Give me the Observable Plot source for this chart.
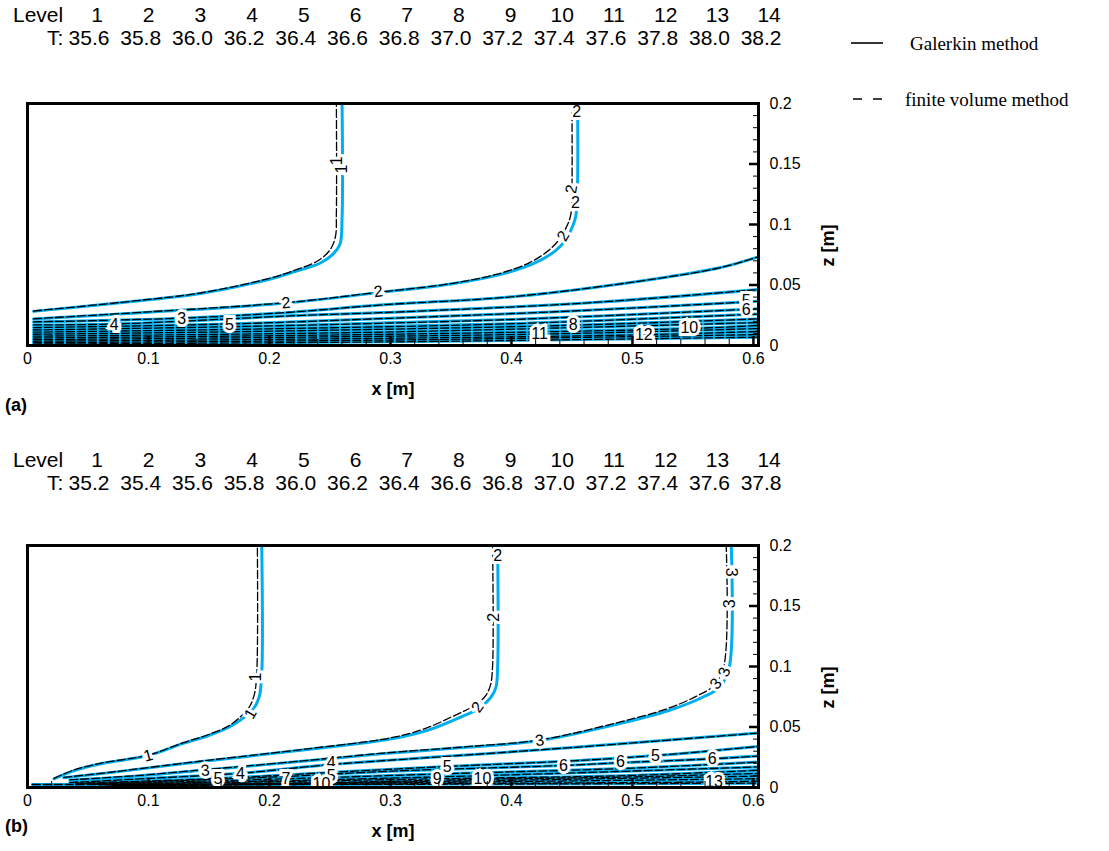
<!DOCTYPE html>
<html><head><meta charset="utf-8">
<script src="https://cdn.jsdelivr.net/npm/d3@7"></script>
<script src="https://cdn.jsdelivr.net/npm/@observablehq/plot@0.6"></script>
<style>
body{margin:0;background:#fff;font-family:"Liberation Sans",Arial,sans-serif;color:#000;}
#root{position:relative;width:1109px;height:851px;overflow:hidden;background:#fff;}
.t{position:absolute;white-space:nowrap;line-height:1;}
.c{transform:translateX(-50%);}
.plotbox{position:absolute;left:0;}
</style></head>
<body><div id="root"></div>
<script>
// ---------- data ----------
const levels = [1,2,3,4,5,6,7,8,9,10,11,12,13,14];
const tempsA = ["35.6","35.8","36.0","36.2","36.4","36.6","36.8","37.0","37.2","37.4","37.6","37.8","38.0","38.2"];
const tempsB = ["35.2","35.4","35.6","35.8","36.0","36.2","36.4","36.6","36.8","37.0","37.2","37.4","37.6","37.8"];
const xMajor = [0,0.1,0.2,0.3,0.4,0.5,0.6];
const xMinor = [0.02,0.04,0.06,0.08,0.12,0.14,0.16,0.18,0.22,0.24,0.26,0.28,0.32,0.34,0.36,0.38,0.42,0.44,0.46,0.48,0.52,0.54,0.56,0.58];
const zMajor = [0,0.05,0.1,0.15,0.2];
const zMinor = [0.01,0.02,0.03,0.04,0.06,0.07,0.08,0.09,0.11,0.12,0.13,0.14,0.16,0.17,0.18,0.19];
const xDomain = [0, 0.6042];
const zDomain = [0, 0.2];

// panel (a): Galerkin contours [level, [[x,z],...]]
const galerkinA = [
 [1,[[0.005,0.0282],[0.0883,0.0365],[0.144,0.0432],[0.2,0.0548],[0.2217,0.0614],[0.2417,0.068],[0.2525,0.0755],[0.2583,0.0838],[0.26,0.1054],[0.26,0.2]]],
 [2,[[0.005,0.0218],[0.1,0.0275],[0.2136,0.0351],[0.29,0.0437],[0.35,0.0508],[0.392,0.059],[0.419,0.068],[0.436,0.078],[0.444,0.086],[0.449,0.095],[0.453,0.106],[0.4545,0.128],[0.4547,0.2]]],
 [3,[[0.005,0.0195],[0.1275,0.0226],[0.21,0.027],[0.294,0.0336],[0.405,0.0407],[0.517,0.0548],[0.572,0.0642],[0.604,0.0733]]],
 [4,[[0.005,0.0170],[0.072,0.0178],[0.2275,0.0249],[0.294,0.0272],[0.461,0.0351],[0.604,0.0462]]],
 [5,[[0.005,0.0148],[0.167,0.0178],[0.3,0.0225],[0.45,0.0285],[0.604,0.0365]]],
 [6,[[0.005,0.0128],[0.2,0.0162],[0.4,0.0215],[0.604,0.0303]]],
 [7,[[0.005,0.0110],[0.2,0.0138],[0.4,0.0180],[0.604,0.0260]]],
 [8,[[0.005,0.0093],[0.2,0.0118],[0.451,0.0168],[0.604,0.0220]]],
 [9,[[0.005,0.0077],[0.3,0.0112],[0.604,0.0190]]],
 [10,[[0.005,0.0062],[0.3,0.0093],[0.547,0.0140],[0.604,0.0166]]],
 [11,[[0.005,0.0048],[0.4233,0.0094],[0.604,0.0140]]],
 [12,[[0.005,0.0035],[0.3,0.006],[0.5094,0.0089],[0.604,0.0116]]],
 [13,[[0.005,0.0023],[0.3,0.0045],[0.604,0.0090]]],
 [14,[[0.005,0.0012],[0.3,0.0030],[0.604,0.0069]]]
];
// panel (a): finite volume contours where they differ visibly
const fvmA = [
 [1,[[0.005,0.0285],[0.0883,0.0368],[0.144,0.0436],[0.2,0.0555],[0.2217,0.0625],[0.24,0.070],[0.25,0.079],[0.2545,0.090],[0.2553,0.11],[0.2553,0.2]]],
 [2,[[0.005,0.0221],[0.1,0.0278],[0.2136,0.0354],[0.29,0.044],[0.35,0.0512],[0.39,0.0595],[0.415,0.0685],[0.43,0.078],[0.439,0.087],[0.445,0.097],[0.449,0.108],[0.45,0.13],[0.45,0.2]]]
];
const labelsA = [
 [1,0.2553,0.1527,-90],[1,0.26,0.1458,-90],
 [2,0.4539,0.1928,0],[2,0.4497,0.1292,-80],[2,0.453,0.118,0],[2,0.4428,0.0905,-60],
 [2,0.2136,0.0351,-5],[2,0.29,0.0445,-7],
 [3,0.1275,0.0224,0],[4,0.0717,0.0174,0],[5,0.167,0.0174,0],
 [5,0.594,0.0365,0],[6,0.594,0.0296,0],[8,0.451,0.0172,0],
 [10,0.547,0.0144,0],[11,0.4233,0.0094,0],[12,0.5094,0.0089,0]
];

// panel (b)
const galerkinB = [
 [1,[[0.0219,0.0072],[0.0386,0.014],[0.0608,0.0196],[0.0998,0.0264],[0.1275,0.0361],[0.1497,0.043],[0.1664,0.0498],[0.1775,0.0568],[0.1858,0.0636],[0.1914,0.0746],[0.1936,0.094],[0.1936,0.2]]],
 [2,[[0.03,0.008],[0.07,0.0125],[0.144,0.0215],[0.2275,0.031],[0.30,0.040],[0.33,0.047],[0.358,0.0581],[0.3747,0.0664],[0.3831,0.0746],[0.3872,0.0829],[0.3886,0.1],[0.3886,0.2]]],
 [3,[[0.035,0.006],[0.09,0.0095],[0.147,0.0145],[0.22,0.021],[0.294,0.028],[0.36,0.033],[0.4233,0.0388],[0.4886,0.0526],[0.53,0.0636],[0.558,0.0746],[0.572,0.0829],[0.58,0.0994],[0.5817,0.2]]],
 [4,[[0.035,0.004],[0.1,0.0075],[0.176,0.0118],[0.251,0.019],[0.35,0.026],[0.45,0.033],[0.604,0.045]]],
 [5,[[0.04,0.0035],[0.1575,0.0075],[0.251,0.0125],[0.347,0.0174],[0.45,0.022],[0.519,0.0264],[0.604,0.034]]],
 [6,[[0.045,0.003],[0.2,0.0085],[0.3,0.0135],[0.443,0.0182],[0.49,0.0205],[0.566,0.0237],[0.604,0.026]]],
 [7,[[0.05,0.0028],[0.2136,0.0072],[0.35,0.0115],[0.5,0.016],[0.604,0.021]]],
 [8,[[0.055,0.0025],[0.25,0.0065],[0.4,0.0105],[0.604,0.017]]],
 [9,[[0.06,0.0023],[0.3386,0.0072],[0.5,0.010],[0.604,0.0143]]],
 [10,[[0.065,0.002],[0.243,0.004],[0.376,0.0068],[0.5,0.0088],[0.604,0.0116]]],
 [11,[[0.07,0.0018],[0.3,0.0045],[0.604,0.0094]]],
 [12,[[0.075,0.0016],[0.3,0.0038],[0.604,0.0072]]],
 [13,[[0.08,0.0014],[0.3,0.003],[0.5675,0.0046],[0.604,0.0053]]],
 [14,[[0.004,0.0025],[0.3,0.0026],[0.604,0.0036]]]
];
const fvmB = [
 [1,[[0.0219,0.0076],[0.0386,0.0146],[0.0608,0.0201],[0.0998,0.0268],[0.1275,0.0366],[0.1497,0.0438],[0.1664,0.051],[0.176,0.0585],[0.183,0.066],[0.1875,0.077],[0.1895,0.095],[0.19,0.2]]],
 [2,[[0.03,0.0083],[0.07,0.0128],[0.144,0.0219],[0.2275,0.0315],[0.30,0.041],[0.328,0.0485],[0.352,0.059],[0.368,0.067],[0.378,0.075],[0.3825,0.084],[0.3844,0.1],[0.3844,0.2]]],
 [3,[[0.035,0.0063],[0.09,0.0098],[0.147,0.0148],[0.22,0.0213],[0.294,0.0284],[0.36,0.0335],[0.4233,0.0393],[0.487,0.0535],[0.527,0.0645],[0.553,0.0755],[0.567,0.084],[0.5755,0.1],[0.5775,0.2]]]
];
const labelsB = [
 [1,0.0998,0.0264,-15],[1,0.1844,0.0609,-60],[1,0.1886,0.0912,-90],
 [2,0.3886,0.1917,0],[2,0.3858,0.1407,-90],[2,0.372,0.0664,-55],
 [3,0.147,0.014,-5],[3,0.4233,0.0388,-8],[3,0.5817,0.178,90],[3,0.5803,0.1518,-90],[3,0.576,0.0953,-70],[3,0.569,0.0857,-50],
 [4,0.176,0.0113,0],[4,0.251,0.020,0],
 [5,0.1575,0.0072,0],[5,0.251,0.0099,0],[5,0.347,0.0174,0],[5,0.519,0.0264,0],
 [6,0.443,0.0182,0],[6,0.49,0.0209,0],[6,0.566,0.0237,0],
 [7,0.2136,0.0072,0],[9,0.3386,0.0072,0],[10,0.243,0.003,0],[10,0.376,0.0072,0],[13,0.5675,0.0044,0]
];

// ---------- helpers ----------
const root = document.getElementById("root");
function txt(s, left, top, css, center) {
  const d = document.createElement("div");
  d.className = "t" + (center ? " c" : "");
  d.textContent = s;
  d.style.left = left + "px"; d.style.top = top + "px";
  d.style.cssText += css || "";
  root.appendChild(d);
  return d;
}
function header(top, temps) {
  const fs = 21, x0 = 89, step = 51.7;
  txt("Level", 13, top, `font-size:${fs}px;`);
  txt("T:", 47, top + 23, `font-size:${fs}px;`);
  levels.forEach((l, i) => txt(String(l), x0 + 8 + i * step, top, `font-size:${fs}px;`, true));
  temps.forEach((t, i) => txt(t, x0 + i * step, top + 23, `font-size:${fs}px;`, true));
}
function flat(list) {
  return list.flatMap(([lev, pts]) => pts.map(([x, z]) => ({lev, x, z})));
}
function panel(gal, fvm, labels) {
  const G = flat(gal);
  const fvmLevels = new Set(fvm.map(d => d[0]));
  const F = flat(fvm.concat(gal.filter(d => !fvmLevels.has(d[0]))));
  const L = labels.map(([lev, x, z, r]) => ({lev, x, z, r}));
  const fmt = d => String(d);
  return Plot.plot({
    width: 860, height: 331,
    marginLeft: 27, marginRight: 102, marginTop: 13, marginBottom: 76,
    x: {domain: xDomain}, y: {domain: zDomain},
    style: {fontFamily: "Liberation Sans, Arial, sans-serif", fontSize: "16px", color: "black", background: "transparent", overflow: "visible"},
    marks: [
      Plot.line(G, {x: "x", y: "z", z: "lev", stroke: "#00aeef", strokeWidth: 3, curve: "catmull-rom", clip: true}),
      Plot.line(F, {x: "x", y: "z", z: "lev", stroke: "black", strokeWidth: 1.3, strokeDasharray: "8,3", curve: "catmull-rom", clip: true}),
      Plot.text(L, {x: "x", y: "z", text: d => String(d.lev), rotate: "r", fill: "black", stroke: "white", strokeWidth: 6, strokeLinejoin: "miter", fontSize: 16}),
      Plot.frame({strokeWidth: 3}),
      Plot.axisX(xMinor, {anchor: "bottom", tickSize: -6, fill: "none", tickFormat: () => "", label: null}),
      Plot.axisX(xMajor, {anchor: "bottom", tickSize: -9, strokeWidth: 2.5, fill: "none", tickFormat: () => "", label: null}),
      Plot.axisX(xMajor, {anchor: "bottom", tickSize: 0, tickPadding: 7, tickFormat: fmt, label: null}),
      Plot.axisY(zMinor, {anchor: "right", tickSize: -6, fill: "none", tickFormat: () => "", label: null}),
      Plot.axisY(zMajor, {anchor: "right", tickSize: -10, strokeWidth: 2.5, fill: "none", tickFormat: () => "", label: null}),
      Plot.axisY(zMajor, {anchor: "right", tickSize: 0, tickPadding: 11, tickFormat: fmt, label: null}),
      Plot.text(["x [m]"], {frameAnchor: "bottom", dy: 49, fontWeight: "bold", fontSize: 18}),
      Plot.text(["z [m]"], {frameAnchor: "right", dx: 70, rotate: -90, fontWeight: "bold", fontSize: 18})
    ]
  });
}
function place(svg, top) {
  const box = document.createElement("div");
  box.className = "plotbox"; box.style.top = top + "px";
  box.appendChild(svg); root.appendChild(box);
}

// ---------- build ----------
header(4, tempsA);
place(panel(galerkinA, fvmA, labelsA), 90);
txt("(a)", 5, 396, "font-size:18px;font-weight:bold;");

header(449, tempsB);
place(panel(galerkinB, fvmB, labelsB), 532);
txt("(b)", 5, 817, "font-size:18px;font-weight:bold;");

// legend
const leg = document.createElementNS("http://www.w3.org/2000/svg", "svg");
leg.setAttribute("width", 60); leg.setAttribute("height", 120);
leg.style.cssText = "position:absolute;left:840px;top:0px;";
leg.innerHTML = '<line x1="11" x2="43" y1="43" y2="43" stroke="black" stroke-width="1.6"/>' +
  '<line x1="13" x2="43" y1="99" y2="99" stroke="black" stroke-width="1.6" stroke-dasharray="9,11"/>';
root.appendChild(leg);
txt("Galerkin method", 910, 34, 'font-family:"Liberation Serif","Times New Roman",serif;font-size:19px;');
txt("finite volume method", 905, 90, 'font-family:"Liberation Serif","Times New Roman",serif;font-size:19px;');
</script>
</body></html>
